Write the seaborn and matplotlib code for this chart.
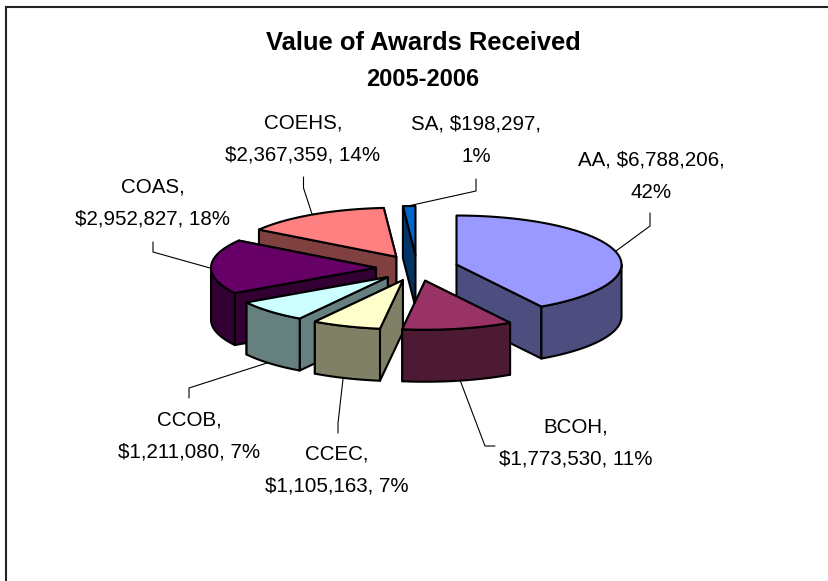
import numpy as np
import seaborn as sns
import matplotlib.pyplot as plt

# clockwise from 12 o'clock
names = ["AA", "BCOH", "CCEC", "CCOB", "COAS", "COEHS", "SA"]
values = [6788206, 1773530, 1105163, 1211080, 2952827, 2367359, 198297]
percents = ["42%", "11%", "7%", "7%", "18%", "14%", "1%"]
colors = ["#9999FF", "#993366", "#FFFFCC", "#CCFFFF", "#660066", "#FF8080", "#0066CC"]
title_lines = ["Value of Awards Received", "2005-2006"]

# label centres and leader lines, in pixels of the picture
label_pos = {"AA": (651, 176), "BCOH": (576, 443), "CCEC": (337, 470), "CCOB": (189, 436),
             "COAS": (153, 203), "COEHS": (303, 139), "SA": (476, 140)}
leaders = {"AA": [(650, 213), (650, 226), (616, 251)],
           "BCOH": [(460, 380), (485, 446), (495, 446)],
           "CCEC": [(338, 433), (338, 423), (343, 379)],
           "CCOB": [(189, 398), (189, 388), (267, 363)],
           "COAS": [(153, 242), (153, 252), (210, 268)],
           "COEHS": [(303.5, 177), (303.5, 188), (312, 214)],
           "SA": [(476, 179), (476, 191), (408, 206)]}

# pie geometry
cx, cy = 417, 268
rx, ry = 165, 49
ex, ey = 41, 13      # explosion
depth = 52

sns.set_theme(style="white")
plt.rcParams['font.family'] = ['Liberation Sans', 'DejaVu Sans']
palette = sns.color_palette(colors)


def shade(c):
    return tuple(v * 0.5 for v in c)


def rim(px, py, a):
    return px + rx * np.sin(a), py - ry * np.cos(a)


def draw_slice(ax, a0, a1, top, side):
    mid = (a0 + a1) / 2
    px, py = cx + ex * np.sin(mid), cy - ey * np.cos(mid)
    style = dict(edgecolor="black", linewidth=1.5, joinstyle="round")
    # the two cut faces, the one further back first
    for a in sorted((a0, a1), key=lambda b: rim(px, py, b)[1]):
        x, y = rim(px, py, a)
        ax.fill([px, x, x, px], [py, y, y + depth, py + depth], facecolor=side, **style)
    # outer wall, only the part that faces us
    lo, hi = max(a0, np.pi / 2), min(a1, 3 * np.pi / 2)
    if lo < hi:
        t = np.linspace(lo, hi, 60)
        x, y = rim(px, py, t)
        ax.fill(np.r_[x, x[::-1]], np.r_[y, y[::-1] + depth], facecolor=side, **style)
    # top face
    t = np.linspace(a0, a1, 80)
    x, y = rim(px, py, t)
    ax.fill(np.r_[px, x], np.r_[py, y], facecolor=top, **style)


fig = plt.figure(figsize=(8.29, 5.81), dpi=100)
ax = fig.add_axes([6 / 829, 0, 823 / 829, 574 / 581])
ax.set_xlim(6, 829)
ax.set_ylim(581, 7)
ax.set_xticks([])
ax.set_yticks([])
sns.despine(ax=ax, top=False, right=True, left=False, bottom=True)
for s in ("top", "left"):
    ax.spines[s].set_color("#222222")
    ax.spines[s].set_linewidth(1.5)

edges = 2 * np.pi * np.r_[0, np.cumsum(values)] / np.sum(values)
mids = (edges[:-1] + edges[1:]) / 2

# back to front
for i in np.argsort(-np.cos(mids)):
    draw_slice(ax, edges[i], edges[i + 1], palette[i], shade(palette[i]))

for n, v, p in zip(names, values, percents):
    if n in ("AA", "SA"):
        txt = f"{n}, ${v:,},\n{p}"
    else:
        txt = f"{n},\n${v:,}, {p}"
    ax.text(*label_pos[n], txt, ha="center", va="center", fontsize=14.8, linespacing=1.9, color="black")
    xs, ys = zip(*leaders[n])
    ax.plot(xs, ys, color="black", lw=0.8)

ax.text(423, 43, title_lines[0], ha="center", va="center", fontsize=18.4, fontweight="bold", color="black")
ax.text(423, 80, title_lines[1], ha="center", va="center", fontsize=17, fontweight="bold", color="black")

fig.savefig("out.png", dpi=100)
